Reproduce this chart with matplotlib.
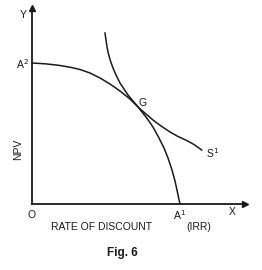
import matplotlib.pyplot as plt

# rate of discount (x) and NPV (y)
curve_a_x = [0, 1.3, 2.6, 3.8, 4.8, 5.8, 6.8, 7.8, 8.8, 9.8, 10.6, 11.4, 12.1,
             12.7, 13.2, 13.6, 14.0, 14.3, 14.52, 14.7, 14.8]
curve_a_y = [14.1, 14.02, 13.88, 13.68, 13.45, 13.1, 12.6, 12.0, 11.3, 10.5, 9.7,
             8.7, 7.7, 6.6, 5.6, 4.6, 3.4, 2.3, 1.3, 0.45, 0.0]

curve_s_x = [7.3, 7.4, 7.5, 7.65, 7.85, 8.1, 8.4, 8.8, 9.2, 9.6, 10.1, 10.7,
             11.4, 12.1, 12.9, 13.8, 14.6, 15.47, 16.2, 16.97]
curve_s_y = [17.1, 16.4, 15.7, 15.0, 14.3, 13.6, 12.9, 12.1, 11.5, 10.9, 10.3,
             9.6, 9.0, 8.4, 7.8, 7.2, 6.75, 6.35, 5.95, 5.4]

plt.rcParams['font.family'] = ['Liberation Sans', 'DejaVu Sans']
ink = "#1a1a1a"

fig = plt.figure(figsize=(2.62, 2.70), dpi=100)
ax = fig.add_axes([32/262, 66/270, 213/262, 196/270])
ax.set_xlim(0, 21.3)
ax.set_ylim(0, 19.6)
for side in ["top", "right"]:
    ax.spines[side].set_visible(False)
for side in ["left", "bottom"]:
    ax.spines[side].set_linewidth(1.3)
    ax.spines[side].set_color(ink)
ax.set_xticks([])
ax.set_yticks([])
ax.patch.set_alpha(0)

# arrow heads
ax.plot(1, 0, ">", color=ink, ms=4, transform=ax.get_yaxis_transform(), clip_on=False)
ax.plot(0, 1, "^", color=ink, ms=4, transform=ax.get_xaxis_transform(), clip_on=False)

ax.plot(curve_a_x, curve_a_y, color=ink, lw=1.1, clip_on=False)
ax.plot(curve_s_x, curve_s_y, color=ink, lw=1.1, clip_on=False)

fs = 7.5
ax.text(-0.9, 18.9, "Y", fontsize=fs, ha="center", va="center", color=ink)
ax.text(-1.0, 14.0, "A$^2$", fontsize=fs, ha="center", va="center", color=ink)
ax.text(-1.4, 5.5, "NPV", fontsize=fs, rotation=90, ha="center", va="center", color=ink)
ax.text(-0.05, -1.1, "O", fontsize=fs, ha="center", va="center", color=ink)
ax.text(14.8, -1.1, "A$^1$", fontsize=fs, ha="center", va="center", color=ink)
ax.text(20.0, -0.8, "X", fontsize=fs, ha="center", va="center", color=ink)
ax.text(11.1, 10.1, "G", fontsize=fs, ha="center", va="center", color=ink)
ax.text(18.1, 5.1, "S$^1$", fontsize=fs, ha="center", va="center", color=ink)
ax.text(6.95, -2.35, "RATE OF DISCOUNT", fontsize=fs, ha="center", va="center", color=ink)
ax.text(16.7, -2.35, "(IRR)", fontsize=fs, ha="center", va="center", color=ink)
ax.text(9.05, -4.9, "Fig. 6", fontsize=8.5, fontweight="bold", ha="center", va="center", color=ink)

fig.savefig("out.png", dpi=100)
